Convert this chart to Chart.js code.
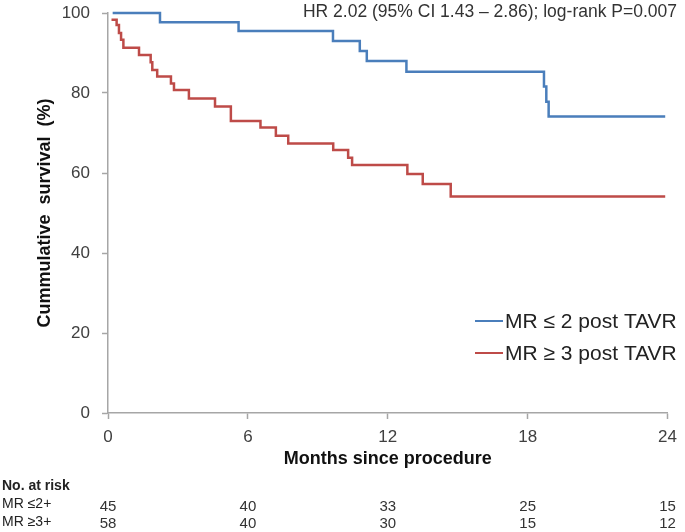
<!DOCTYPE html>
<html>
<head>
<meta charset="utf-8">
<script src="https://cdn.jsdelivr.net/npm/chart.js@4"></script>
<style>
  html, body { margin: 0; padding: 0; background: #fff; }
  #wrap { width: 685px; height: 532px; position: relative; }
</style>
</head>
<body>
<div id="wrap"><canvas id="kmChart" width="685" height="532"></canvas></div>
<script>
// Kaplan-Meier curves: month, survival %
const lowMonths = [0.2, 2.23, 5.6, 9.65, 10.8, 11.1, 12.8, 18.7, 18.8, 18.9, 23.9];
const lowSurvival = [100, 97.7, 95.5, 93, 90.5, 88, 85.3, 81.6, 77.8, 74.1, 74.1];

const highMonths = [0.15, 0.37, 0.47, 0.56, 0.66, 1.33, 1.83, 1.9, 2.11, 2.7, 2.83, 3.47, 4.59, 5.27,
  6.54, 7.2, 7.73, 9.66, 10.3, 10.47, 12.84, 13.5, 14.7, 23.9];
const highSurvival = [98.3, 97, 95, 93.3, 91.3, 89.5, 87.7, 85.75, 84.1, 82.4, 80.75, 78.6, 76.6, 73,
  71.4, 69.3, 67.4, 65.75, 63.8, 62, 59.75, 57.25, 54.1, 54.1];

const seriesLabels = ["MR \u2264 2 post TAVR", "MR \u2265 3 post TAVR"];

// number at risk table
const riskMonths = [0, 6, 12, 18, 24];
const riskLabels = ["MR \u22642+", "MR \u22653+"];
const riskLow = [45, 40, 33, 25, 15];
const riskHigh = [58, 40, 30, 15, 12];

const statsText = "HR 2.02 (95% CI 1.43 \u2013 2.86); log-rank P=0.007";

const FONT = "'Liberation Sans', Arial, sans-serif";
const AXIS_GREY = "#a6a6a6";
const TEXT = "#404040";

function toPoints(xs, ys) {
  return xs.map((x, i) => ({ x: x, y: ys[i] }));
}

const extrasPlugin = {
  id: "extras",
  afterDraw(chart) {
    const ctx = chart.ctx;
    const xScale = chart.scales.x;
    ctx.save();

    // HR text top right
    ctx.font = "17.5px " + FONT;
    ctx.fillStyle = "#333";
    ctx.textAlign = "right";
    ctx.textBaseline = "middle";
    ctx.fillText(statsText, 677, 12);

    // legend inside plot
    ctx.textAlign = "left";
    ctx.font = "21px " + FONT;
    chart.data.datasets.forEach((ds, i) => {
      const y = 321 + i * 32;
      ctx.strokeStyle = ds.borderColor;
      ctx.lineWidth = 2;
      ctx.beginPath();
      ctx.moveTo(475, y);
      ctx.lineTo(503, y);
      ctx.stroke();
      ctx.fillStyle = "#222";
      ctx.fillText(ds.label, 505, y + 1);
    });

    // risk table
    ctx.fillStyle = "#222";
    ctx.font = "bold 14px " + FONT;
    ctx.fillText("No. at risk", 2, 486);
    ctx.font = "14px " + FONT;
    ctx.fillText(riskLabels[0], 2, 504);
    ctx.fillText(riskLabels[1], 2, 522);

    ctx.fillStyle = "#333";
    ctx.textAlign = "center";
    ctx.font = "15px " + FONT;
    riskMonths.forEach((m, i) => {
      const x = xScale.getPixelForValue(m);
      ctx.fillText(riskLow[i], x, 507);
      ctx.fillText(riskHigh[i], x, 524);
    });
    ctx.restore();
  }
};

const ctx = document.getElementById("kmChart").getContext("2d");

const chart = new Chart(ctx, {
  type: "line",
  data: {
    datasets: [
      {
        label: seriesLabels[0],
        data: toPoints(lowMonths, lowSurvival),
        borderColor: "#4a7ebb",
        borderWidth: 2.5,
        pointRadius: 0,
        stepped: true,
        fill: false,
        clip: 6,
      },
      {
        label: seriesLabels[1],
        data: toPoints(highMonths, highSurvival),
        borderColor: "#be4b48",
        borderWidth: 2.5,
        pointRadius: 0,
        stepped: true,
        fill: false,
        clip: 6,
      },
    ],
  },
  options: {
    responsive: false,
    animation: false,
    layout: {
      padding: { left: 0, right: 17, top: 13, bottom: 58 },
    },
    plugins: {
      legend: { display: false },
      tooltip: { enabled: false },
    },
    scales: {
      x: {
        type: "linear",
        min: 0,
        max: 24,
        afterFit: (scale) => { scale.height = 61; },
        ticks: {
          stepSize: 6,
          color: TEXT,
          padding: 8,
          font: { family: FONT, size: 17 },
        },
        grid: {
          drawOnChartArea: false,
          color: AXIS_GREY,
          tickLength: 6,
          tickWidth: 1.5,
        },
        border: { color: AXIS_GREY, width: 1.5 },
        title: {
          display: true,
          text: "Months since procedure",
          color: "#111",
          padding: { top: 4, bottom: 4 },
          font: { family: FONT, size: 18, weight: "bold" },
        },
      },
      y: {
        min: 0,
        max: 100,
        afterFit: (scale) => {
          scale.width = 108;
          scale.paddingTop = 0;
          scale.paddingBottom = 0;
        },
        ticks: {
          stepSize: 20,
          color: TEXT,
          padding: 12,
          font: { family: FONT, size: 17 },
        },
        grid: {
          drawOnChartArea: false,
          color: AXIS_GREY,
          tickLength: 6,
          tickWidth: 1.5,
        },
        border: { color: AXIS_GREY, width: 1.5 },
        title: {
          display: true,
          text: "Cummulative  survival  (%)",
          color: "#111",
          padding: { top: 34, bottom: 4 },
          font: { family: FONT, size: 18, weight: "bold" },
        },
      },
    },
  },
  plugins: [extrasPlugin],
});
</script>
</body>
</html>
